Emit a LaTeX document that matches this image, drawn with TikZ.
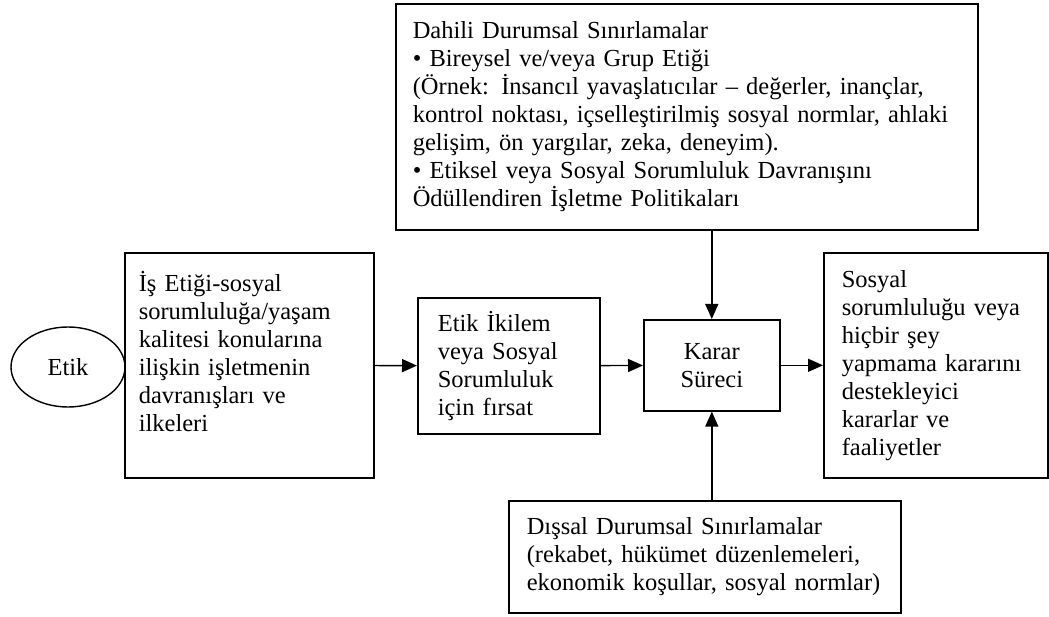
\documentclass[tikz,border=0pt]{standalone}
\usepackage{fontspec}
\setmainfont{Liberation Serif}
\usetikzlibrary{shapes.geometric}
\usetikzlibrary{arrows.meta}

\tikzset{
  kutu/.style={draw, line width=1.6pt, align=left, inner xsep=0pt, inner ysep=0pt,
    anchor=north west, font=\fontsize{24.5}{28}\selectfont},
  ok/.style={line width=1.4pt, -{Triangle[length=15pt,width=13pt]}}
}

\begin{document}
\begin{tikzpicture}[x=1pt,y=-1pt]
 \useasboundingbox (0,0) rectangle (1049,617);

 % kutular
 \node[kutu, minimum width=582, minimum height=226, text width=548] (dahili) at (395,3)
   {Dahili Durumsal Sınırlamalar\\
    • Bireysel ve/veya Grup Etiği\\
    (Örnek: İnsancıl yavaşlatıcılar – değerler, inançlar,\\
    kontrol noktası, içselleştirilmiş sosyal normlar, ahlaki\\
    gelişim, ön yargılar, zeka, deneyim).\\
    • Etiksel veya Sosyal Sorumluluk Davranışını\\
    Ödüllendiren İşletme Politikaları};
 \node[kutu, minimum width=249, minimum height=225, text width=221] (isetigi) at (124,252)
   {İş Etiği-sosyal\\ sorumluluğa/yaşam\\ kalitesi konularına\\ ilişkin işletmenin\\
    davranışları ve\\ ilkeleri\\ \mbox{}};
 \node[kutu, minimum width=182, minimum height=136, text width=142] (ikilem) at (417,297)
   {Etik İkilem\\ veya Sosyal\\ Sorumluluk\\ için fırsat};
 \node[kutu, align=center, minimum width=136, minimum height=91] (karar) at (643,319)
   {Karar\\ Süreci};
 \node[kutu, minimum width=224, minimum height=225, text width=188] (sonuc) at (823,252)
   {Sosyal\\ sorumluluğu veya\\ hiçbir şey\\ yapmama kararını\\ destekleyici\\
    kararlar ve\\ faaliyetler};
 \node[kutu, minimum width=392, minimum height=112, text width=356] (dissal) at (508,500)
   {Dışsal Durumsal Sınırlamalar\\
    (rekabet, hükümet düzenlemeleri,\\
    ekonomik koşullar, sosyal normlar)};

 \node[ellipse, draw, line width=1.4pt, minimum width=114, minimum height=80, inner sep=0pt,
   font=\fontsize{24.5}{28}\selectfont] (etik) at (68,367) {Etik};

 % oklar
 \draw[ok] (isetigi) -- (ikilem);
 \draw[ok] (ikilem) -- (karar);
 \draw[ok] (karar) -- (sonuc);
 \draw[ok] (karar.north |- dahili.south) -- (karar.north);
 \draw[ok] (karar.south |- dissal.north) -- (karar.south);
\end{tikzpicture}
\end{document}
